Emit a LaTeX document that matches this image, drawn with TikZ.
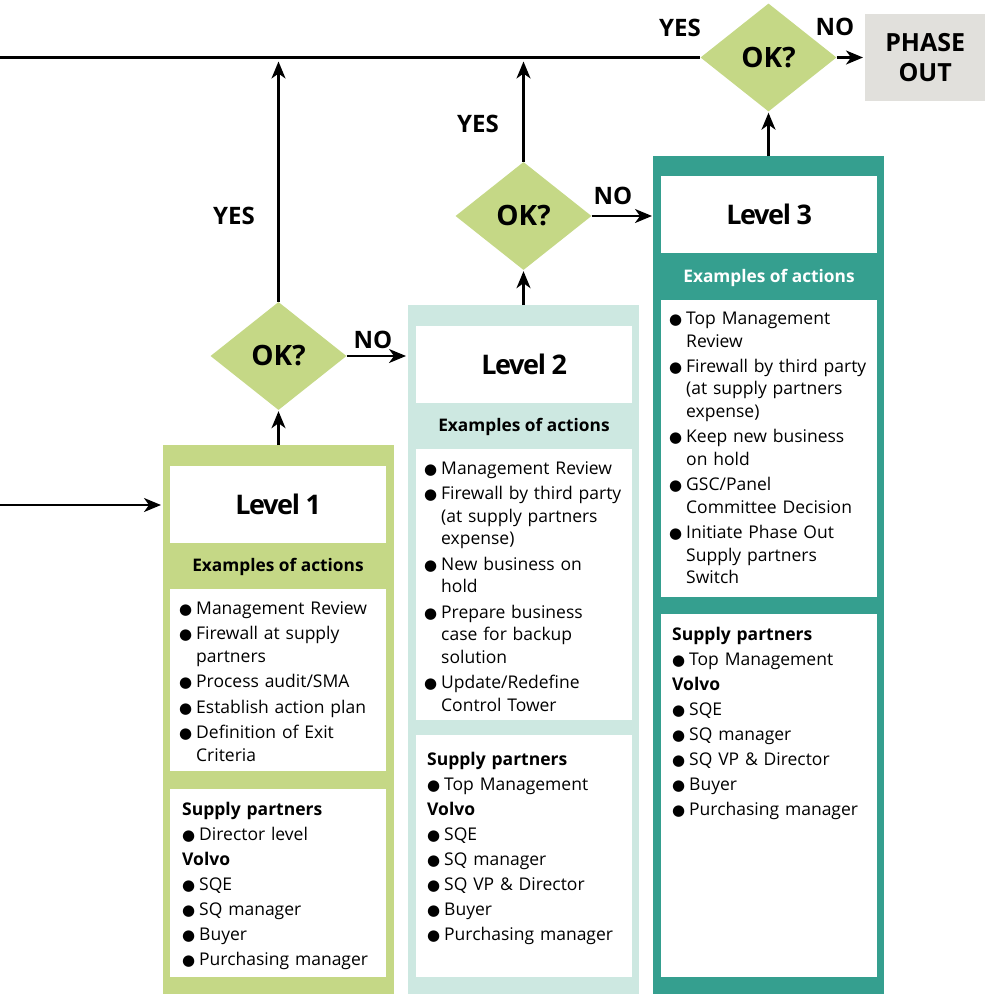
\documentclass[tikz,border=0pt]{standalone}
\usepackage{fontspec}
\setmainfont{Open Sans}
\newfontfamily\symfont{DejaVu Sans}
\usetikzlibrary{arrows.meta,shapes.geometric,positioning}
\definecolor{lvgreen}{HTML}{C5D886}
\definecolor{lvmint}{HTML}{CDE8E1}
\definecolor{lvteal}{HTML}{359F8F}
\definecolor{phasegray}{HTML}{E1E0DC}
\newcommand{\listfont}{\fontsize{17.5}{22.5}\selectfont\setlength{\parskip}{2.9pt}}
\newcommand{\rolefont}{\fontsize{17.5}{25.1}\selectfont\setlength{\parskip}{0pt}}
\newcommand{\bitem}[1]{\noindent\hangindent=17pt\hangafter=1\makebox[17pt][l]{\symfont\fontsize{15}{15}\selectfont ●}#1\par}
\newcommand{\bhead}[1]{\noindent\textbf{#1}\par}
\tikzset{
    level-frame/.style = {rectangle, inner sep=0pt, anchor=north west, minimum width=231pt},
    white-box/.style = {rectangle, fill=white, inner sep=0pt, anchor=north west, minimum width=216pt},
    level-title/.style = {font=\fontsize{27}{30}\selectfont\bfseries\addfontfeature{LetterSpace=-5}},
    actions-title/.style = {font=\fontsize{17.3}{20}\selectfont\bfseries},
    item-list/.style = {anchor=base west, inner sep=0pt, text width=205pt, align=left},
    ok-diamond/.style = {diamond, fill=lvgreen, inner sep=0pt, minimum width=136pt, minimum height=108pt, font=\fontsize{28}{30}\selectfont\bfseries},
    answer/.style = {font=\fontsize{24}{26}\selectfont\bfseries},
    flow/.style = {line width=2.2pt, -{Stealth[length=17pt,width=14pt,inset=5pt]}},
}

\begin{document}
\begin{tikzpicture}[x=1pt, y=-1pt]
\useasboundingbox (0,0) rectangle (985,994);

% level frames
\node[level-frame, fill=lvgreen, minimum height=549pt] (lv1) at (163,445) {};
\node[level-frame, fill=lvmint, minimum height=689pt] (lv2) at (408,305) {};
\node[level-frame, fill=lvteal, minimum height=838pt] (lv3) at (653,156) {};

% level 1
\node[white-box, minimum height=77pt, level-title] (title1) at (170,466) {Level 1};
\node[actions-title] (head1) at (278,567) {Examples of actions};
\node[white-box, minimum height=182pt] (act1) at (170,589) {};
\node[white-box, minimum height=188pt] (who1) at (170,789) {};
\node[item-list, font=\listfont] (actlist1) at (179,614.5) {%
    \bitem{Management Review}
    \bitem{Firewall at supply\newline partners}
    \bitem{Process audit/SMA}
    \bitem{Establish action plan}
    \bitem{Definition of Exit\newline Criteria}};
\node[item-list, font=\rolefont] (wholist1) at (182,815) {%
    \bhead{Supply partners}
    \bitem{Director level}
    \bhead{Volvo}
    \bitem{SQE}
    \bitem{SQ manager}
    \bitem{Buyer}
    \bitem{Purchasing manager}};

% level 2
\node[white-box, minimum height=77pt, level-title] (title2) at (416,326) {Level 2};
\node[actions-title] (head2) at (524,427) {Examples of actions};
\node[white-box, minimum height=271pt] (act2) at (416,449) {};
\node[white-box, minimum height=242pt] (who2) at (416,735) {};
\node[item-list, font=\listfont] (actlist2) at (424,474.5) {%
    \bitem{Management Review}
    \bitem{Firewall by third party\newline (at supply partners\newline expense)}
    \bitem{New business on\newline hold}
    \bitem{Prepare business\newline case for backup\newline solution}
    \bitem{Update/Redefine\newline Control Tower}};
\node[item-list, font=\rolefont] (wholist2) at (427,765) {%
    \bhead{Supply partners}
    \bitem{Top Management}
    \bhead{Volvo}
    \bitem{SQE}
    \bitem{SQ manager}
    \bitem{SQ VP \& Director}
    \bitem{Buyer}
    \bitem{Purchasing manager}};

% level 3
\node[white-box, minimum height=77pt, level-title] (title3) at (661,176) {Level 3};
\node[actions-title, text=white] (head3) at (769,278) {Examples of actions};
\node[white-box, minimum height=297pt] (act3) at (661,300) {};
\node[white-box, minimum height=363pt] (who3) at (661,614) {};
\node[item-list, font=\listfont] (actlist3) at (669,324.5) {%
    \bitem{Top Management\newline Review}
    \bitem{Firewall by third party\newline (at supply partners\newline expense)}
    \bitem{Keep new business\newline on hold}
    \bitem{GSC/Panel\newline Committee Decision}
    \bitem{Initiate Phase Out\newline Supply partners\newline Switch}};
\node[item-list, font=\rolefont] (wholist3) at (672,640) {%
    \bhead{Supply partners}
    \bitem{Top Management}
    \bhead{Volvo}
    \bitem{SQE}
    \bitem{SQ manager}
    \bitem{SQ VP \& Director}
    \bitem{Buyer}
    \bitem{Purchasing manager}};

% decisions
\node[ok-diamond] (ok1) at (278.5,356) {OK?};
\node[ok-diamond] (ok2) at (523.5,216) {OK?};
\node[ok-diamond] (ok3) at (768.5,57.5) {OK?};
\node[rectangle, fill=phasegray, anchor=north west, inner sep=0pt, minimum width=120pt, minimum height=87pt,
      align=center, font=\fontsize{25}{30}\selectfont\bfseries] (phase) at (865,14) {PHASE\\OUT};

% connectors
\coordinate (feed) at (0,505);
\coordinate (topline) at (0,57.5);
\draw[line width=2.2pt] (topline) -- (ok3.west);
\draw[flow, shorten >=2pt] (feed) -- (feed -| lv1.west);
\draw[flow, shorten >=1pt] (ok1.south |- lv1.north) -- (ok1.south);
\draw[flow, shorten >=4pt] (ok1.north) -- (ok1.north |- topline);
\draw[flow, shorten >=2pt] (ok1.east) -- (ok1.east -| lv2.west);
\draw[flow, shorten >=1pt] (ok2.south |- lv2.north) -- (ok2.south);
\draw[flow, shorten >=4pt] (ok2.north) -- (ok2.north |- topline);
\draw[flow, shorten >=1pt] (ok2.east) -- (ok2.east -| lv3.west);
\draw[flow, shorten >=1pt] (ok3.south |- lv3.north) -- (ok3.south);
\draw[flow, shorten >=2pt] (ok3.east) -- (ok3.east -| phase.west);

% answers
\node[answer] (yes1) at (234,216) {YES};
\node[answer] (no1) at (373,340) {NO};
\node[answer] (yes2) at (478,124) {YES};
\node[answer] (no2) at (613,196) {NO};
\node[answer] (yes3) at (680,28) {YES};
\node[answer] (no3) at (835,27) {NO};
\end{tikzpicture}
\end{document}
